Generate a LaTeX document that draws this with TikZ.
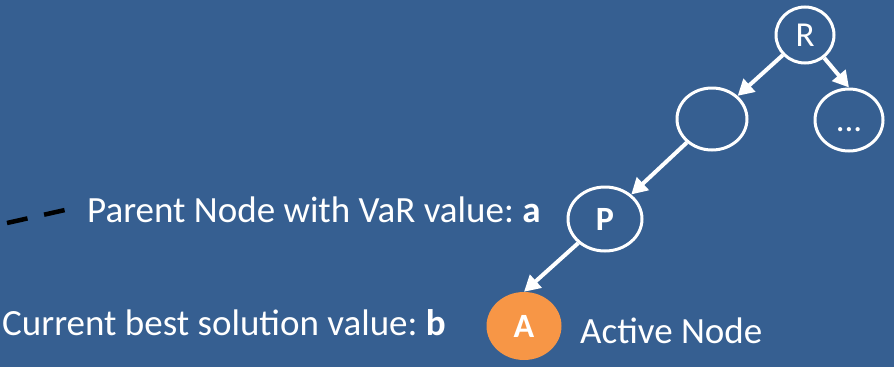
\documentclass[tikz,border=0pt]{standalone}
\usepackage{fontspec}
\setmainfont{Carlito}
\usetikzlibrary{arrows.meta,shapes.geometric}
\definecolor{slide}{HTML}{365F91}
\definecolor{activeorange}{HTML}{F79646}
\begin{document}
\begin{tikzpicture}[x=1pt,y=-1pt,
  treenode/.style={ellipse,draw=white,line width=3pt,inner sep=0pt,
    minimum width=70pt,minimum height=62pt,text=white,
    font=\fontsize{35}{40}\selectfont},
  activenode/.style={ellipse,fill=activeorange,inner sep=0pt,
    minimum width=75pt,minimum height=68pt,text=white,
    font=\fontsize{34}{40}\selectfont\bfseries},
  caption/.style={anchor=base west,inner sep=0pt,text=white,
    font=\fontsize{37}{44}\selectfont},
  edge/.style={draw=white,line width=4pt,
    -{Triangle[length=16pt,width=17pt]}},
  legenddash/.style={draw=black,line width=4.5pt,dash pattern=on 21pt off 17pt}
]
\fill[slide] (0,0) rectangle (894,367);
\useasboundingbox (0,0) rectangle (894,367);

% search tree
\node[treenode,minimum width=58pt,minimum height=56pt] (root) at (805,35) {R};
\node[treenode] (left) at (712,119) {};
\node[treenode,minimum width=68pt] (more) at (849,120) {\vphantom{R}...};
\node[treenode,minimum width=74pt,minimum height=64pt,font=\fontsize{34}{40}\selectfont\bfseries] (parent) at (605,219) {P};
\node[activenode] (active) at (524,326) {A};

\draw[edge] (root) -- (left);
\draw[edge] (root) -- (more.north);
\draw[edge] (left) -- (parent);
\draw[edge] (parent) -- (active.north);

% legend
\coordinate (dashA) at (7,223);
\coordinate (dashB) at (65,210);
\draw[legenddash] (dashA) -- (dashB);
\node[caption] (parentlabel) at (87,222) {Parent Node with VaR value:~\textbf{a}};
\node[caption] (bestlabel) at (2,335) {Current best solution value:~\textbf{b}};
\node[caption] (activelabel) at (580,343) {Active Node};
\end{tikzpicture}
\end{document}
